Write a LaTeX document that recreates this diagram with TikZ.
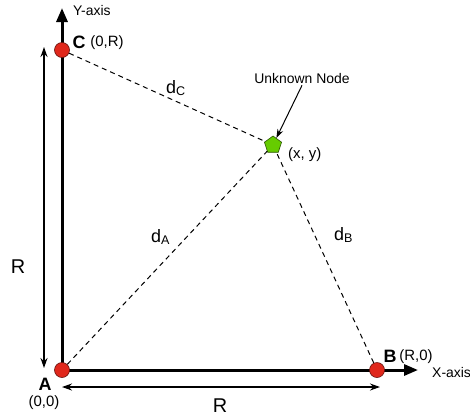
\documentclass[tikz,border=0pt]{standalone}
\usepackage{fontspec}
\setmainfont{Liberation Sans}
\usetikzlibrary{arrows.meta,shapes.geometric,backgrounds}
\definecolor{anchorred}{HTML}{E0281C}
\definecolor{nodegreen}{HTML}{66CC00}
\begin{document}
\begin{tikzpicture}[x=1bp,y=-1bp,
  station/.style={circle,fill=anchorred,draw=black!55!anchorred,line width=0.6bp,minimum size=15bp,inner sep=0pt},
  unknownnode/.style={regular polygon,regular polygon sides=5,fill=nodegreen,draw=black!60!nodegreen,line width=0.6bp,minimum size=18bp,inner sep=0pt},
  axisline/.style={line width=3bp,-{Triangle[length=14bp,width=11bp]}},
  distline/.style={dash pattern=on 5bp off 4bp,line width=1bp},
  dimline/.style={line width=1.6bp,{Stealth[length=10bp,width=7bp]}-{Stealth[length=10bp,width=7bp]}},
  pointer/.style={line width=1bp,-{Stealth[length=9bp,width=6bp]}},
  smalltext/.style={font=\fontsize{14}{16}\selectfont,inner sep=0pt},
  coordtext/.style={font=\fontsize{15}{17}\selectfont,inner sep=0pt},
  bigtext/.style={font=\fontsize{18}{20}\selectfont,inner sep=0pt},
  boldtext/.style={font=\fontsize{18}{20}\selectfont\bfseries,inner sep=0pt},
  rtext/.style={font=\fontsize{20}{22}\selectfont,inner sep=0pt}]
\useasboundingbox (0,0) rectangle (470,416);

\node[station] (A) at (62,370) {};
\node[station] (B) at (377,370) {};
\node[station] (C) at (62,50) {};
\node[unknownnode] (U) at (273,145) {};

\coordinate (xend) at (418,370);
\coordinate (yend) at (62,8);
\begin{scope}[on background layer]
\draw[axisline] (A.center) -- (xend);
\draw[axisline] (A.center) -- (yend);
\end{scope}

\draw[distline] (A) -- (U);
\draw[distline] (B) -- (U);
\draw[distline] (C) -- (U);

\coordinate (vtop) at (44,47);
\coordinate (vbot) at (44,368);
\coordinate (hleft) at (62,387);
\coordinate (hright) at (380,387);
\draw[dimline] (vtop) -- (vbot);
\draw[dimline] (hleft) -- (hright);

\node[boldtext,anchor=base] (alabel) at (45,390) {A};
\node[coordtext,anchor=base] (acoord) at (44,406) {(0,0)};
\node[boldtext,anchor=base] (blabel) at (390,362) {B};
\node[coordtext,anchor=base] (bcoord) at (416,360) {(R,0)};
\node[boldtext,anchor=base] (clabel) at (79,48) {C};
\node[coordtext,anchor=base] (ccoord) at (107,46) {(0,R)};

\node[smalltext,anchor=base west] (xlabel) at (432,377) {X-axis};
\node[smalltext,anchor=base west] (ylabel) at (73,15) {Y-axis};

\node[rtext,anchor=base] (rvert) at (18,273) {R};
\node[rtext,anchor=base] (rhoriz) at (220,412) {R};

\node[bigtext,anchor=base west] (dc) at (166,93) {d\textsubscript{C}};
\node[bigtext,anchor=base west] (da) at (151,242) {d\textsubscript{A}};
\node[bigtext,anchor=base west] (db) at (334,240) {d\textsubscript{B}};

\node[coordtext,anchor=base west] (ucoord) at (288,158) {(x, y)};
\node[smalltext,anchor=base,inner sep=2pt] (ulabel) at (302,83) {Unknown Node};
\draw[pointer] (ulabel.south) -- (U);
\end{tikzpicture}
\end{document}
